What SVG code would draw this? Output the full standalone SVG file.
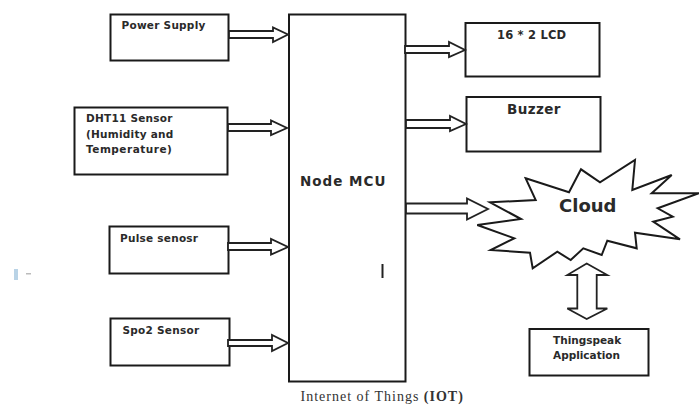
<svg xmlns="http://www.w3.org/2000/svg" width="699" height="405" viewBox="0 0 699 405">
<style>
.b{fill:#fff;stroke:#1a1a1a;stroke-width:2}
.a{fill:#fff;stroke:#222;stroke-width:1.800}
text{font-family:"DejaVu Sans",sans-serif;font-weight:bold;fill:#2a2a2a;font-size:10.500px}
.s{letter-spacing:.25px}
</style>
<rect width="699" height="405" fill="#fff"/>
<g id="power"><rect class="b" x="110.500" y="14.500" width="118" height="46"/><text class="s" x="121.500" y="29">Power Supply</text></g>
<g id="dht"><rect class="b" x="74.500" y="107.500" width="153" height="67"/><text class="s" x="86" y="122">DHT11 Sensor</text><text class="s" x="86" y="138">(Humidity and</text><text class="s" x="86" y="153" style="letter-spacing:.5px">Temperature)</text></g>
<g id="pulse"><rect class="b" x="109.500" y="226.500" width="119" height="47"/><text class="s" x="120" y="242">Pulse senosr</text></g>
<g id="spo2"><rect class="b" x="110.500" y="318.500" width="119" height="47"/><text class="s" x="122.500" y="334">Spo2 Sensor</text></g>
<g id="mcu"><rect class="b" x="289" y="14.500" width="116.500" height="367"/><text x="300" y="185.500" style="font-size:13.500px;letter-spacing:1px">Node MCU</text><path d="M382.500 264V278" stroke="#222" stroke-width="2"/></g>
<g id="lcd"><rect class="b" x="465.500" y="23" width="134" height="53.500"/><text x="497" y="39" style="font-size:11.500px;letter-spacing:.2px">16 * 2 LCD</text></g>
<g id="buzzer"><rect class="b" x="466.500" y="97" width="134" height="54.500"/><text x="507" y="114" style="font-size:13.500px;letter-spacing:.4px">Buzzer</text></g>
<g id="cloud"><path class="b" d="M525.700 178.300L569 192.300 581 169.300 600 182.300 635 160 632.300 190 671.700 175 651.700 193.300 699 193.300 657.700 208.300 672.700 216.700 653.300 221.700 680 239.300 635 232.700 636.700 248.300 607.300 240.700 601.700 255 583.300 248.300 570.700 260 557.300 251.700 532.700 268.300 530 252.700 490.700 250 514.300 238.300 477.300 225 521 219 490 202.300 535.700 200Z"/><text x="559" y="212" style="font-size:18px">Cloud</text></g>
<g id="thingspeak"><rect class="b" x="529.500" y="329" width="119" height="46.500"/><text x="553" y="344">Thingspeak</text><text x="553" y="359">Application</text></g>
<g id="connectors">
<path class="a" d="M229 31H273V27.500L288 34.500L273 42V38H229Z"/>
<path class="a" d="M228 124H271V120.500L287 128L271 135V131H228Z"/>
<path class="a" d="M228 243H271V239L288 247L271 254.500V250H228Z"/>
<path class="a" d="M228 340H272V335L288 343L272 351V346H228Z"/>
<path class="a" d="M405 46H449V42L465 50L449 57V53H405Z"/>
<path class="a" d="M406 120H450V116L466 124L450 131V128H406Z"/>
<path class="a" d="M406 203.500H467V198.500L488 209L467 219.500V213.500H406Z"/>
<path class="a" d="M586.700 263.500L607.300 275H596.700V308.500H607.300L586.700 319L567.300 308.500H577.300V275H567.300Z"/>
</g>
<text x="300.500" y="400.500" style="font-family:'Liberation Serif',serif;font-weight:normal;font-size:14px;letter-spacing:1px;fill:#333">Internet of Things <tspan font-weight="bold">(IOT)</tspan></text>
<rect x="14" y="269" width="4" height="11" fill="#b9d3e6"/><rect x="26" y="273" width="5" height="1.500" fill="#bbb"/>
</svg>
